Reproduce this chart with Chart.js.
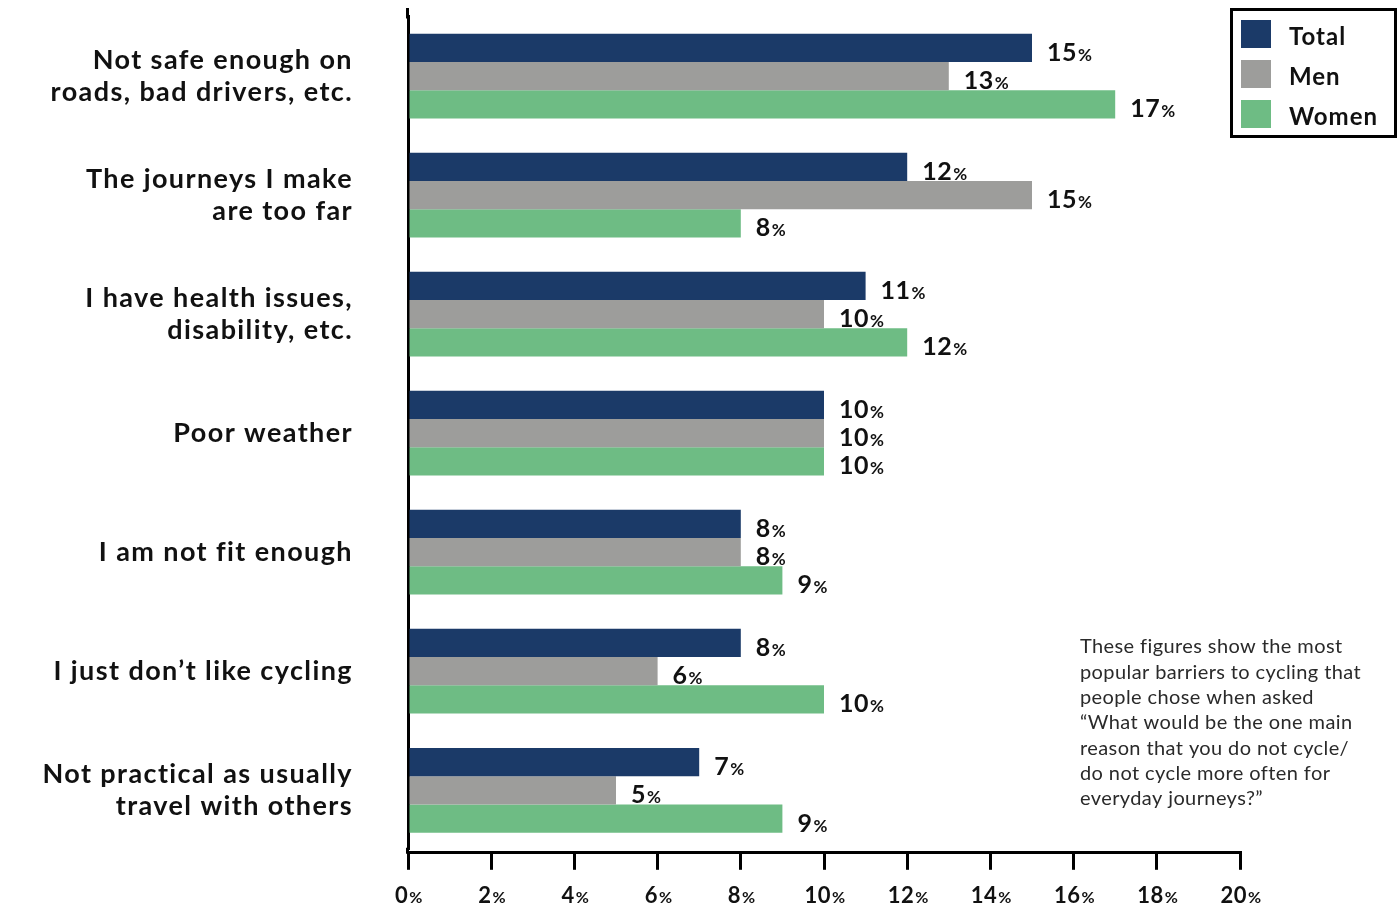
<!DOCTYPE html>
<html>
<head>
<meta charset="utf-8">
<script src="https://cdn.jsdelivr.net/npm/chart.js@4.4.1/dist/chart.umd.min.js"></script>
<style>
  html, body { margin: 0; padding: 0; background: #fff; }
  #wrap { width: 1398px; height: 909px; position: relative; }
</style>
</head>
<body>
<div id="wrap"><canvas id="barriers"></canvas></div>
<script>
// DATA
const categories = [
    ['Not safe enough on', 'roads, bad drivers, etc.'],
    ['The journeys I make', 'are too far'],
    ['I have health issues,', 'disability, etc.'],
    'Poor weather',
    'I am not fit enough',
    'I just don\u2019t like cycling',
    ['Not practical as usually', 'travel with others']
];
const seriesNames = ['Total', 'Men', 'Women'];
const totalValues = [15, 12, 11, 10, 8, 8, 7];
const menValues = [13, 15, 10, 10, 8, 6, 5];
const womenValues = [17, 8, 12, 10, 9, 10, 9];
const xTicks = [0, 2, 4, 6, 8, 10, 12, 14, 16, 18, 20];
const noteLines = [
    'These figures show the most',
    'popular barriers to cycling that',
    'people chose when asked',
    '\u201cWhat would be the one main',
    'reason that you do not cycle/',
    'do not cycle more often for',
    'everyday journeys?\u201d'
];

const colours = ['#1b3a68', '#9d9d9b', '#6ebc84'];
const FONT = 'Lato, "Noto Sans", sans-serif';

// number + small percent sign, both on one baseline
function drawPct(ctx, value, x, yMid, numSize, pctSize, align) {
    ctx.save();
    ctx.letterSpacing = '0.5px';
    ctx.textBaseline = 'alphabetic';
    ctx.textAlign = 'left';
    ctx.fillStyle = '#111';
    const num = String(value);
    ctx.font = 'bold ' + numSize + 'px ' + FONT;
    const wNum = ctx.measureText(num).width;
    ctx.font = 'bold ' + pctSize + 'px ' + FONT;
    const wPct = ctx.measureText('%').width;
    let start = x;
    if (align === 'center') start = x - (wNum + 1 + wPct) / 2;
    const base = yMid + numSize * 0.36;
    ctx.font = 'bold ' + numSize + 'px ' + FONT;
    ctx.fillText(num, start, base);
    ctx.font = 'bold ' + pctSize + 'px ' + FONT;
    ctx.fillText('%', start + wNum + 1, base);
    ctx.restore();
}

const extras = {
    id: 'extras',
    afterLayout(chart) {
        // the x axis sits a little below the last bar band
        const xs = chart.scales.x;
        xs.top += 3;
        xs.bottom += 3;
    },
    beforeDraw(chart) {
        // spaced out category labels, like the original
        chart.ctx.letterSpacing = '1.4px';
    },
    beforeDatasetsDraw(chart) {
        chart.ctx.letterSpacing = '0px';
    },
    afterDatasetsDraw(chart) {
        const ctx = chart.ctx;
        // bar value labels
        chart.data.datasets.forEach((ds, i) => {
            chart.getDatasetMeta(i).data.forEach((bar, j) => {
                drawPct(ctx, ds.data[j], bar.x + 15, bar.y + 4, 25, 17, 'left');
            });
        });
    },
    afterDraw(chart) {
        const ctx = chart.ctx;
        const area = chart.chartArea;
        const xs = chart.scales.x;

        // y axis line runs a bit past the bar bands
        ctx.save();
        ctx.strokeStyle = '#000';
        ctx.lineWidth = 3;
        ctx.beginPath();
        ctx.moveTo(area.left - 0.5, 8);
        ctx.lineTo(area.left - 0.5, area.top + 2);
        ctx.moveTo(area.left - 0.5, area.bottom - 2);
        ctx.lineTo(area.left - 0.5, xs.top + 1);
        ctx.stroke();
        ctx.restore();

        // x tick labels
        xTicks.forEach(t => drawPct(ctx, t, xs.getPixelForValue(t) + 1, 895, 22, 16, 'center'));

        // legend
        ctx.save();
        ctx.strokeStyle = '#000';
        ctx.lineWidth = 3;
        ctx.strokeRect(1231.5, 9.5, 164, 127);
        chart.data.datasets.forEach((ds, i) => {
            const y = 20 + i * 40;
            ctx.fillStyle = ds.backgroundColor;
            ctx.fillRect(1241, y, 30, 28);
            ctx.fillStyle = '#111';
            ctx.font = 'bold 24px ' + FONT;
            ctx.letterSpacing = '1px';
            ctx.textBaseline = 'middle';
            ctx.textAlign = 'left';
            ctx.fillText(ds.label, 1289, y + 17);
        });

        // note
        ctx.fillStyle = '#2a2a2a';
        ctx.font = '400 20px ' + FONT;
        ctx.letterSpacing = '0.4px';
        noteLines.forEach((line, i) => ctx.fillText(line, 1080, 647 + i * 25.3));
        ctx.restore();
    }
};

const barData = {
    labels: categories,
    datasets: [
        { label: seriesNames[0], data: totalValues, backgroundColor: colours[0] },
        { label: seriesNames[1], data: menValues, backgroundColor: colours[1] },
        { label: seriesNames[2], data: womenValues, backgroundColor: colours[2] }
    ]
};

const config = {
    type: 'bar',
    data: barData,
    plugins: [extras],
    options: {
        indexAxis: 'y',
        responsive: true,
        maintainAspectRatio: false,
        animation: false,
        events: [],
        layout: { padding: { top: 16.5, right: 158, bottom: 0, left: 0 } },
        datasets: {
            bar: { categoryPercentage: 0.712, barPercentage: 1.0, borderWidth: 0 }
        },
        plugins: {
            legend: { display: false },
            tooltip: { enabled: false }
        },
        scales: {
            x: {
                min: 0,
                max: 20,
                afterFit: s => {
                    s.height = 59.2;
                    s.paddingLeft = 0;
                    s.paddingRight = 0;
                },
                afterBuildTicks: s => { s.ticks = xTicks.map(v => ({ value: v })); },
                border: { display: true, color: '#000', width: 3 },
                grid: {
                    display: true,
                    drawOnChartArea: false,
                    drawTicks: true,
                    tickLength: 17,
                    color: '#000',
                    lineWidth: 3
                },
                ticks: { display: false }
            },
            y: {
                afterFit: s => {
                    s.width = 408;
                    s.paddingTop = 0;
                    s.paddingBottom = 0;
                },
                border: { display: true, color: '#000', width: 3 },
                grid: { display: false, drawTicks: false },
                ticks: {
                    color: '#111',
                    padding: 55,
                    crossAlign: 'near',
                    font: { family: FONT, size: 27, weight: 'bold', lineHeight: 1.19 }
                }
            }
        }
    }
};

new Chart(document.getElementById('barriers'), config);
</script>
</body>
</html>
